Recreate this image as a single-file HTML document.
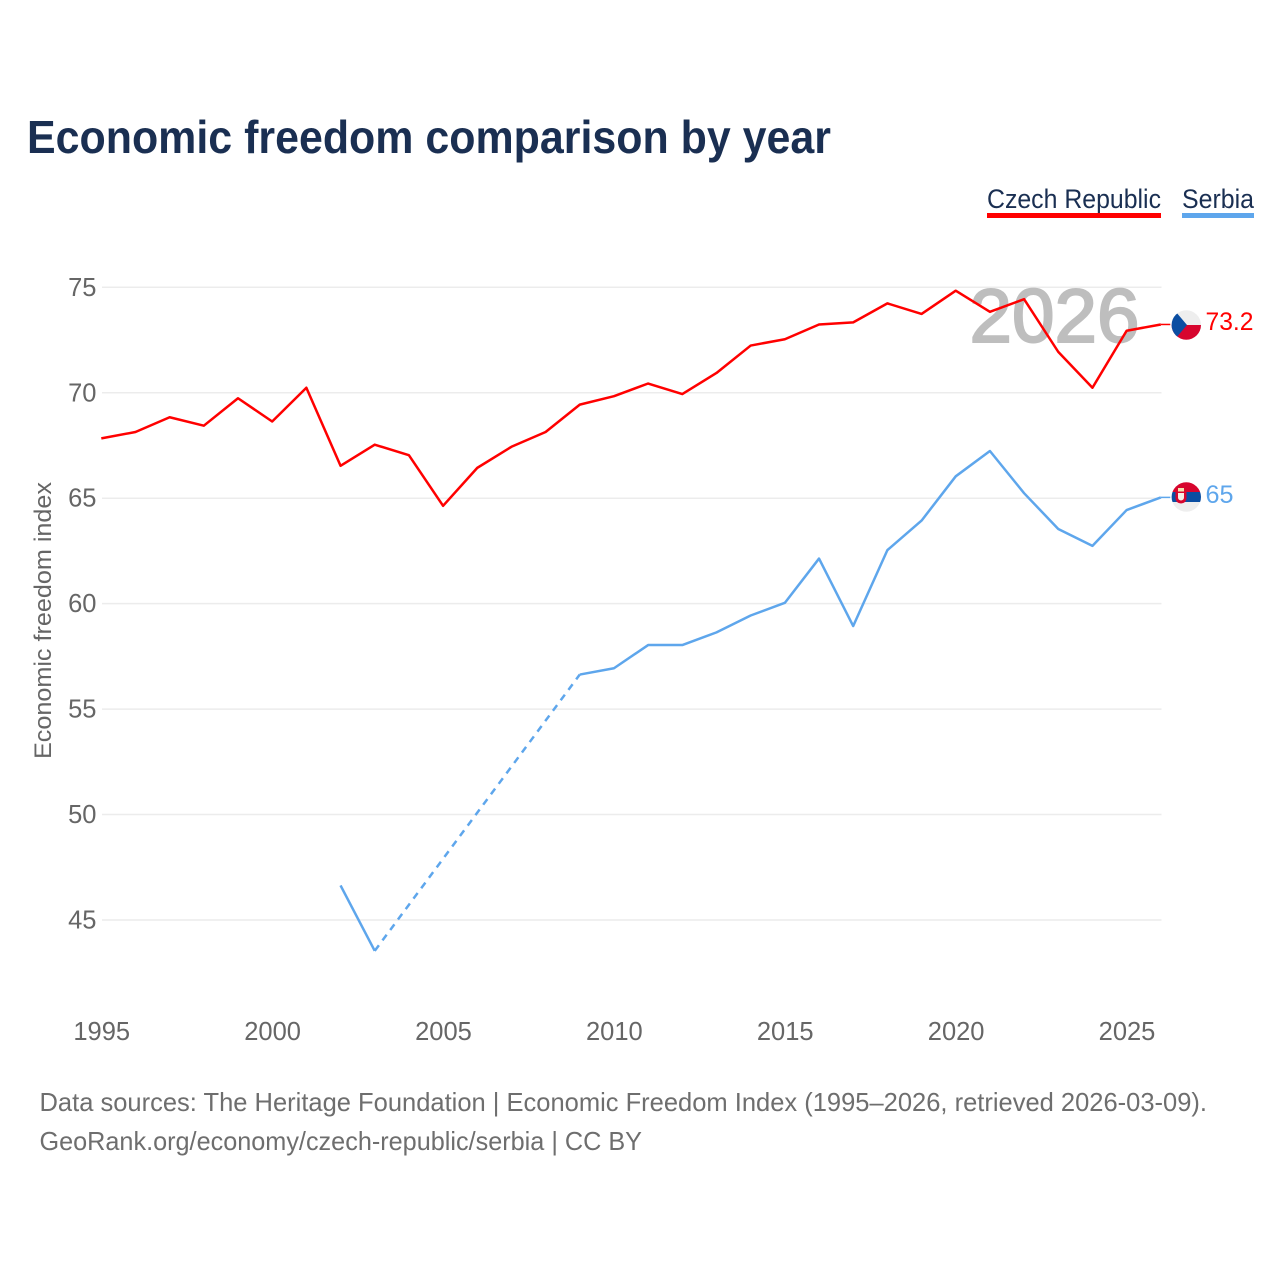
<!DOCTYPE html>
<html lang="en">
<head>
<meta charset="utf-8">
<title>Economic freedom comparison by year</title>
<style>
html,body{margin:0;padding:0;background:#fff;width:1280px;height:1280px;overflow:hidden}
svg{display:block}
text{font-family:"Liberation Sans",sans-serif}
</style>
</head>
<body>
<svg id="chart" width="1280" height="1280" viewBox="0 0 1280 1280" xmlns="http://www.w3.org/2000/svg">
  <defs>
    <clipPath id="clip-cz"><circle cx="1186.3" cy="325" r="14.7"/></clipPath>
    <clipPath id="clip-rs"><circle cx="1186.3" cy="497" r="14.7"/></clipPath>
  </defs>
  <text x="27" y="153" font-size="46" font-weight="700" fill="#1a2f52" textLength="804" lengthAdjust="spacingAndGlyphs">Economic freedom comparison by year</text>

  <g>
    <text x="987" y="208" font-size="27" fill="#1a2f52" textLength="174" lengthAdjust="spacingAndGlyphs">Czech Republic</text>
    <rect x="987" y="213" width="174" height="5" fill="#ff0000"/>
  </g>
  <g>
    <text x="1182" y="208" font-size="27" fill="#1a2f52" textLength="72" lengthAdjust="spacingAndGlyphs">Serbia</text>
    <rect x="1182" y="213" width="72" height="5" fill="#5ea6ec"/>
  </g>

  <g id="grid"></g>
  <g id="y-ticks"></g>
  <g id="x-ticks"></g>

  <text transform="translate(51,620.5) rotate(-90)" text-anchor="middle" font-size="24" fill="#666666" textLength="277" lengthAdjust="spacingAndGlyphs">Economic freedom index</text>

  <text x="969.5" y="342" font-size="76" fill="#bebebe" stroke="#bebebe" stroke-width="2" textLength="170" lengthAdjust="spacingAndGlyphs">2026</text>

  <g id="series" transform="translate(-0.7,-0.8)"></g>

  <g clip-path="url(#clip-cz)">
    <rect x="1171" y="310" width="31" height="15" fill="#eeeeee"/>
    <rect x="1171" y="325" width="31" height="16" fill="#d7052e"/>
    <polygon points="1171,309 1176,312 1187,325 1176,338 1171,341" fill="#0b4ea2"/>
  </g>
  <g clip-path="url(#clip-rs)">
    <rect x="1171" y="482" width="31" height="10" fill="#d7052e"/>
    <rect x="1171" y="492" width="31" height="10" fill="#0b4ea2"/>
    <rect x="1171" y="502" width="31" height="10" fill="#eeeeee"/>
    <path d="M1175.5 490h11v8q0 5-5.500 5.500q-5.500-.5-5.500-5.500z" fill="#d7052e"/>
    <rect x="1178" y="488" width="6" height="3.500" fill="#f2e3b0"/>
    <path d="M1178 493h6v4.500q0 2.500-3 3q-3-.5-3-3z" fill="#f6efe6"/>
  </g>

  <text x="1205.5" y="330" font-size="25" fill="#ff0000" textLength="48" lengthAdjust="spacingAndGlyphs">73.2</text>
  <text x="1205.5" y="503" font-size="25" fill="#5ea6ec" textLength="28" lengthAdjust="spacingAndGlyphs">65</text>

  <text x="39.500" y="1111" font-size="26" fill="#6e6e6e" textLength="1167.500" lengthAdjust="spacingAndGlyphs">Data sources: The Heritage Foundation | Economic Freedom Index (1995–2026, retrieved 2026-03-09).</text>
  <text x="39.500" y="1150" font-size="26" fill="#6e6e6e" textLength="602.500" lengthAdjust="spacingAndGlyphs">GeoRank.org/economy/czech-republic/serbia | CC BY</text>
</svg>
<script>
var years = [1995,1996,1997,1998,1999,2000,2001,2002,2003,2004,2005,2006,2007,2008,2009,2010,2011,2012,2013,2014,2015,2016,2017,2018,2019,2020,2021,2022,2023,2024,2025,2026];
var czechValues = [67.8,68.1,68.8,68.4,69.7,68.6,70.2,66.5,67.5,67.0,64.6,66.4,67.4,68.1,69.4,69.8,70.4,69.9,70.9,72.2,72.5,73.2,73.3,74.2,73.7,74.8,73.8,74.4,71.9,70.2,72.9,73.2];
var serbiaValues = [null,null,null,null,null,null,null,46.6,43.5,null,null,null,null,null,56.6,56.9,58.0,58.0,58.6,59.4,60.0,62.1,58.9,62.5,63.9,66.0,67.2,65.2,63.5,62.7,64.4,65.0];
var yTickValues = [45,50,55,60,65,70,75];
var xTickValues = [1995,2000,2005,2010,2015,2020,2025];

var NS = 'http://www.w3.org/2000/svg';
var plotLeft = 102, plotRight = 1161.5, y75 = 287.3, y45 = 920;
function xScale(year){ return plotLeft + (year - 1995) * (plotRight - plotLeft) / 31; }
function yScale(v){ return y45 + (v - 45) * (y75 - y45) / 30; }
function make(tag, attrs, parent){
  var el = document.createElementNS(NS, tag);
  for (var k in attrs) el.setAttribute(k, attrs[k]);
  parent.appendChild(el);
  return el;
}
var grid = document.getElementById('grid');
var yT = document.getElementById('y-ticks');
var xT = document.getElementById('x-ticks');
var series = document.getElementById('series');

yTickValues.forEach(function(v){
  var g = make('line', {x1:plotLeft, x2:plotRight, y1:yScale(v), y2:yScale(v), stroke:'#ececec', 'stroke-width':1.5}, grid);
  
  
  var t = make('text', {x:96.5, y:yScale(v)+8.5, 'text-anchor':'end', 'font-size':25.5, fill:'#666666'}, yT);
  
  
  t.textContent = v;
});
xTickValues.forEach(function(y){
  var t = make('text', {x:xScale(y)-0.3, y:1040, 'text-anchor':'middle', 'font-size':25.5, fill:'#666666'}, xT);
  
  
  t.textContent = y;
});

function drawSeries(values, color, name){
  var segments = [], current = [], prev = null;
  values.forEach(function(v, i){
    if (v === null) { if (current.length) segments.push(current); current = []; return; }
    var pt = [xScale(years[i]), yScale(v)];
    if (prev && current.length === 0) {
      var d = make('path', {d:'M'+prev[0]+' '+prev[1]+'L'+pt[0]+' '+pt[1], fill:'none', stroke:color, 'stroke-width':2.5, 'stroke-dasharray':'7 6'}, series);
      
      
    }
    current.push(pt);
    prev = pt;
  });
  if (current.length) segments.push(current);
  segments.forEach(function(seg){
    var p = make('path', {d:'M' + seg.map(function(q){return q[0]+' '+q[1];}).join('L'), fill:'none', stroke:color, 'stroke-width':2.5, 'stroke-linejoin':'round'}, series);
    
    
  });
  var last = values[values.length - 1];
  var c = make('line', {x1:plotRight, x2:1171, y1:yScale(last), y2:yScale(last), stroke:color, 'stroke-width':1.5}, series);
  
  
}
drawSeries(czechValues, '#ff0000', 'czech-republic');
drawSeries(serbiaValues, '#5ea6ec', 'serbia');
</script>
</body>
</html>
